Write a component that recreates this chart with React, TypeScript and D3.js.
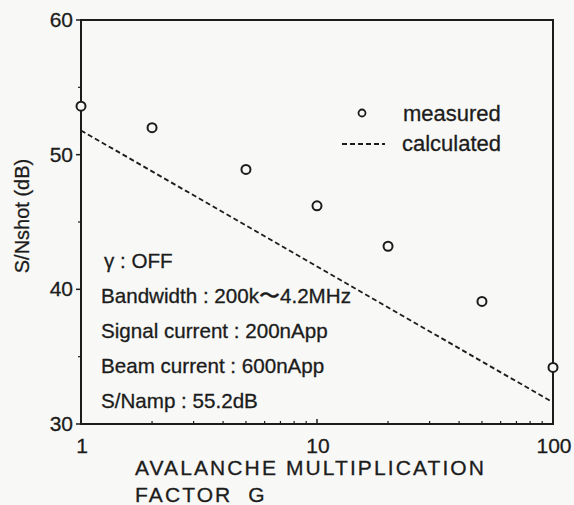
import React from "react";
import * as d3 from "d3";

// measured S/Nshot (dB) vs avalanche multiplication factor G
const measuredG = [1, 2, 5, 10, 20, 50, 100];
const measuredSN = [53.6, 52.0, 48.9, 46.2, 43.2, 39.1, 34.2];

// calculated (straight line on log axis)
const calcG = [1, 10, 100];
const calcSN = [51.8, 41.7, 31.6];

const xMajor = [1, 10, 100];
const xMinor = [2, 3, 4, 5, 6, 7, 8, 9, 20, 30, 40, 50, 60, 70, 80, 90];
const yMajor = [30, 40, 50, 60];
const yMinor = [35, 45, 55];

const notes = [
  "γ : OFF",
  "Bandwidth : 200k〜4.2MHz",
  "Signal current : 200nApp",
  "Beam current : 600nApp",
  "S/Namp : 55.2dB",
];

const W = 574;
const H = 505;
const left = 81;
const right = 553;
const top = 20;
const bottom = 424;
const ink = "#1c1c1c";
const paper = "#f8f8f6";
const font = "'Liberation Sans', Arial, sans-serif";

const App: React.FC = () => {
  const x = d3.scaleLog().domain([1, 100]).range([left, right]);
  const y = d3.scaleLinear().domain([30, 60]).range([bottom, top]);

  const line = d3
    .line<number>()
    .x((_, i) => x(calcG[i]))
    .y((d) => y(d));

  return (
    <svg
      width={W}
      height={H}
      style={{ position: "absolute", left: 0, top: 0, background: paper }}
      fontFamily={font}
      fill={ink}
    >
      {/* frame */}
      <rect x={left} y={top} width={right - left} height={bottom - top} fill="none" stroke={ink} strokeWidth={2} />

      {/* y ticks */}
      {yMajor.map((v) => (
        <g key={"ym" + v}>
          <line x1={left - 5} x2={left} y1={y(v)} y2={y(v)} stroke={ink} strokeWidth={1.5} />
          <text x={73} y={y(v) + 7} fontSize={21} textAnchor="end" stroke={ink} strokeWidth={0.3}>
            {v}
          </text>
        </g>
      ))}
      {yMinor.map((v) => (
        <line key={"yn" + v} x1={left - 3} x2={left} y1={y(v)} y2={y(v)} stroke={ink} strokeWidth={1.2} />
      ))}

      {/* x ticks */}
      {xMajor.map((v) => (
        <g key={"xm" + v}>
          <line x1={x(v)} x2={x(v)} y1={bottom} y2={bottom - 5} stroke={ink} strokeWidth={1.5} />
          <text x={x(v) + 1} y={bottom + 29} fontSize={21} textAnchor="middle" stroke={ink} strokeWidth={0.3}>
            {v}
          </text>
        </g>
      ))}
      {xMinor.map((v) => (
        <line key={"xn" + v} x1={x(v)} x2={x(v)} y1={bottom} y2={bottom - 3} stroke={ink} strokeWidth={1.2} />
      ))}

      {/* calculated line */}
      <path d={line(calcSN) || ""} fill="none" stroke={ink} strokeWidth={1.8} strokeDasharray="5,3" />

      {/* measured points */}
      {measuredG.map((g, i) => (
        <circle key={"m" + g} cx={x(g)} cy={y(measuredSN[i])} r={4.5} fill={paper} stroke={ink} strokeWidth={2} />
      ))}

      {/* legend */}
      <circle cx={362} cy={113} r={3.5} fill="none" stroke={ink} strokeWidth={1.8} />
      <text x={403} y={121} fontSize={22} stroke={ink} strokeWidth={0.3}>measured</text>
      <line x1={342} x2={385} y1={144} y2={144} stroke={ink} strokeWidth={1.8} strokeDasharray="5,3" />
      <text x={402} y={151} fontSize={22} stroke={ink} strokeWidth={0.3}>calculated</text>

      {/* conditions */}
      {notes.map((t, i) => (
        <text key={t} x={i === 0 ? 104 : 101} y={268 + i * 35} fontSize={20.6} stroke={ink} strokeWidth={0.3}>
          {t}
        </text>
      ))}

      {/* axis titles */}
      <text x={135} y={475} fontSize={21} letterSpacing={2.1} stroke={ink} strokeWidth={0.3}>
        AVALANCHE MULTIPLICATION
      </text>
      <text x={135} y={502} fontSize={21} letterSpacing={2.1} xmlSpace="preserve" stroke={ink} strokeWidth={0.3}>
        FACTOR  G
      </text>
      <text transform="translate(29,216) rotate(-90)" fontSize={20} textAnchor="middle" stroke={ink} strokeWidth={0.3}>
        S/Nshot (dB)
      </text>
    </svg>
  );
};

export default App;
